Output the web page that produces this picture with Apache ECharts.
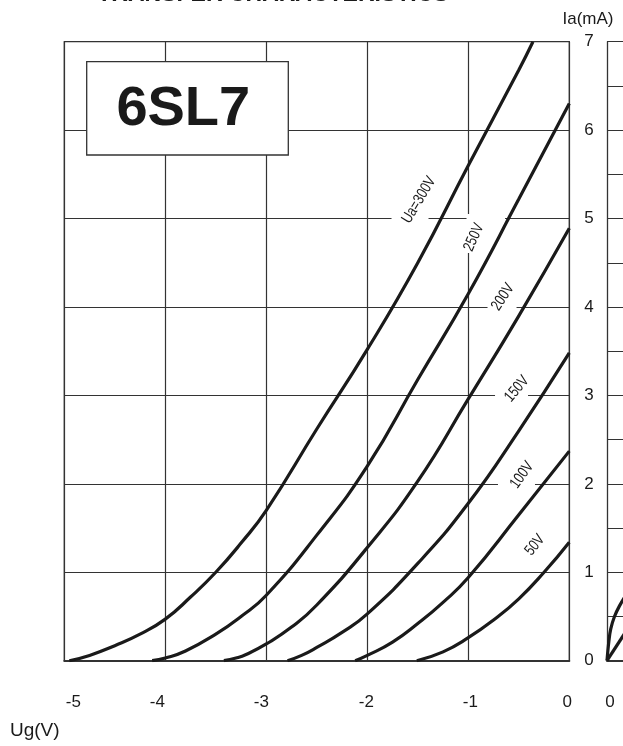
<!DOCTYPE html>
<html><head><meta charset="utf-8">
<script src="https://cdn.jsdelivr.net/npm/echarts@6/dist/echarts.min.js"></script>
<style>html,body{margin:0;padding:0;background:#fff}#c{width:623px;height:746px}</style>
</head><body><div id="c"></div>
<script>
// ---- data ----
const ugTicks = [-5, -4, -3, -2, -1, 0];
const iaTicks = [0, 1, 2, 3, 4, 5, 6, 7];
const curveNames = ['Ua=300V', '250V', '200V', '150V', '100V', '50V'];

const ug300 = [-4.95, -4.75, -4.5, -4.25, -4.0, -3.75, -3.5, -3.25, -3.0, -2.5, -2.0, -1.5, -1.0, -0.5, -0.36];
const ia300 = [0, 0.06, 0.17, 0.30, 0.47, 0.72, 1.0, 1.33, 1.70, 2.62, 3.52, 4.50, 5.60, 6.68, 7.0];
const ug250 = [-4.13, -4.0, -3.8, -3.5, -3.25, -3.0, -2.5, -2.0, -1.5, -1.0, -0.5, 0];
const ia250 = [0, 0.03, 0.11, 0.30, 0.50, 0.74, 1.42, 2.20, 3.18, 4.15, 5.22, 6.30];
const ug200 = [-3.42, -3.3, -3.2, -3.0, -2.75, -2.5, -2.0, -1.5, -1.0, -0.5, 0];
const ia200 = [0, 0.03, 0.07, 0.19, 0.38, 0.63, 1.28, 2.03, 2.96, 3.90, 4.89];
const ug150 = [-2.79, -2.65, -2.5, -2.25, -2.0, -1.5, -1.0, -0.5, 0];
const ia150 = [0, 0.06, 0.15, 0.32, 0.53, 1.10, 1.78, 2.60, 3.48];
const ug100 = [-2.12, -2.0, -1.75, -1.5, -1.25, -1.0, -0.5, 0];
const ia100 = [0, 0.06, 0.21, 0.42, 0.66, 0.94, 1.65, 2.37];
const ug50  = [-1.51, -1.25, -1.0, -0.75, -0.5, -0.25, 0];
const ia50  = [0, 0.10, 0.26, 0.46, 0.70, 1.0, 1.34];

// curve labels (anchor in Ug / Ia units)
const labelUg = [-1.488, -0.944, -0.657, -0.518, -0.468, -0.340];
const labelIa = [5.21, 4.786, 4.113, 3.072, 2.10, 1.308];
// white patches behind labels that interrupt the grid
const maskUg = [-1.577, -0.827, -0.666, -0.572, -0.523];
const maskIa = [5.21, 4.83, 4.10, 3.06, 2.10];

// neighbouring plate-characteristics panel (partly visible at the right edge)
const plateUa  = [0, 1.5, 3, 6, 10, 16];
const plateIaA = [0, 0.22, 0.36, 0.50, 0.62, 0.76];
const plateUaB = [0, 16];
const plateIaB = [0, 0.35];

// ---- styles ----
const INK = '#1a1a1a', GRID = '#333';
const labelRotate = [59, 66, 57, 50, 55, 51];
const maskSize = [[37, 44], [38.5, 39], [29, 36], [33, 28], [37, 32]];
const xLabelShift = [9, -8, -5, -1, 2, -2];
const sans = "'Liberation Sans',Arial,sans-serif";

const zip = (a, b) => a.map((v, i) => [v, b[i]]);
const curves = [[ug300, ia300], [ug250, ia250], [ug200, ia200], [ug150, ia150], [ug100, ia100], [ug50, ia50]];

const rich = {};
ugTicks.forEach((t, i) => {
  const s = xLabelShift[i];
  rich['t' + i] = { fontSize: 17, color: INK, fontFamily: sans,
    padding: s >= 0 ? [0, 0, 0, 2 * s] : [0, -2 * s, 0, 0] };
});

const chart = echarts.init(document.getElementById('c'), null, { renderer: 'canvas' });

const series = [];
curves.forEach((c, i) => {
  series.push({
    type: 'line', name: curveNames[i], xAxisIndex: 0, yAxisIndex: 0,
    data: zip(c[0], c[1]), smooth: 0.5, showSymbol: false, symbol: 'none',
    lineStyle: { color: INK, width: 3.2 }, z: 3, silent: true
  });
});
series.push({
  type: 'scatter', xAxisIndex: 0, yAxisIndex: 0, z: 2, silent: true,
  symbol: 'rect',
  data: maskUg.map((u, i) => ({ value: [u, maskIa[i]], symbolSize: maskSize[i] })),
  itemStyle: { color: '#fff', opacity: 1 }
});
series.push({
  type: 'custom', xAxisIndex: 0, yAxisIndex: 0, z: 4, silent: true, clip: false,
  data: labelUg.map((u, i) => [u, labelIa[i], i]),
  renderItem: function (params, api) {
    const i = api.value(2);
    const p = api.coord([api.value(0), api.value(1)]);
    return {
      type: 'text', x: p[0], y: p[1], rotation: labelRotate[i] * Math.PI / 180,
      scaleX: 0.82, scaleY: 1.05,
      style: { text: curveNames[i], fill: INK, fontSize: 15, fontFamily: sans,
        align: 'center', verticalAlign: 'middle' }
    };
  }
});
series.push({
  type: 'line', xAxisIndex: 1, yAxisIndex: 1, data: zip(plateUa, plateIaA), smooth: 0.4,
  symbol: 'none', lineStyle: { color: INK, width: 3.2 }, z: 3, silent: true
});
series.push({
  type: 'line', xAxisIndex: 1, yAxisIndex: 1, data: zip(plateUaB, plateIaB),
  symbol: 'none', lineStyle: { color: INK, width: 3.2 }, z: 3, silent: true
});

chart.setOption({
  animation: false,
  backgroundColor: '#fff',
  grid: [
    { left: 64.3, right: 53.7, top: 41.7, bottom: 85.3, show: true, borderColor: GRID, borderWidth: 1.3,
      backgroundColor: 'transparent', outerBoundsMode: 'none', containLabel: false },
    { left: 607, width: 500, top: 41.7, bottom: 85.3, show: false, outerBoundsMode: 'none', containLabel: false }
  ],
  xAxis: [
    { type: 'value', gridIndex: 0, min: -5, max: 0, interval: 1,
      axisLine: { show: true, onZero: false, lineStyle: { color: GRID, width: 2 } },
      axisTick: { show: false },
      splitLine: { show: true, lineStyle: { color: GRID, width: 1.2 } },
      axisLabel: { margin: 33, formatter: v => { const i = ugTicks.indexOf(v); return '{t' + i + '|' + v + '}'; }, rich: rich } },
    { type: 'value', gridIndex: 1, min: 0, max: 400, interval: 50,
      axisLine: { show: true, onZero: false, lineStyle: { color: GRID, width: 2 } },
      axisTick: { show: false }, splitLine: { show: false },
      axisLabel: { margin: 33, fontSize: 17, color: INK, fontFamily: sans, padding: [0, 0, 0, 6] } }
  ],
  yAxis: [
    { type: 'value', gridIndex: 0, position: 'right', min: 0, max: 7, interval: 1,
      axisLine: { show: false }, axisTick: { show: false },
      splitLine: { show: true, lineStyle: { color: GRID, width: 1.2 } },
      axisLabel: { margin: 15, fontSize: 17, color: INK, fontFamily: sans } },
    { type: 'value', gridIndex: 1, position: 'left', min: 0, max: 7, interval: 0.5,
      axisLine: { show: true, onZero: false, lineStyle: { color: GRID, width: 1.3 } },
      axisTick: { show: false }, axisLabel: { show: false },
      splitLine: { show: true, lineStyle: { color: GRID, width: 1.2 } } }
  ],
  graphic: [
    { type: 'text', x: 273, y: -5.5, z: 20, style: { text: 'TRANSFER CHARACTERISTICS', fill: INK,
      font: 'bold 23px ' + sans, textAlign: 'center', textVerticalAlign: 'middle' } },
    { type: 'text', x: 588, y: 19, z: 20, style: { text: 'Ia(mA)', fill: INK,
      font: '17px ' + sans, textAlign: 'center', textVerticalAlign: 'middle' } },
    { type: 'text', x: 10, y: 731, z: 20, style: { text: 'Ug(V)', fill: INK,
      font: '19px ' + sans, textAlign: 'left', textVerticalAlign: 'middle' } },
    { type: 'rect', z: 20, shape: { x: 86.7, y: 61.7, width: 201.6, height: 93.3 },
      style: { fill: '#fff', stroke: GRID, lineWidth: 1.3 } },
    { type: 'text', x: 183.3, y: 110, z: 21, style: { text: '6SL7', fill: INK,
      font: 'bold 56px ' + sans, textAlign: 'center', textVerticalAlign: 'middle' } }
  ],
  series: series
});
</script></body></html>
